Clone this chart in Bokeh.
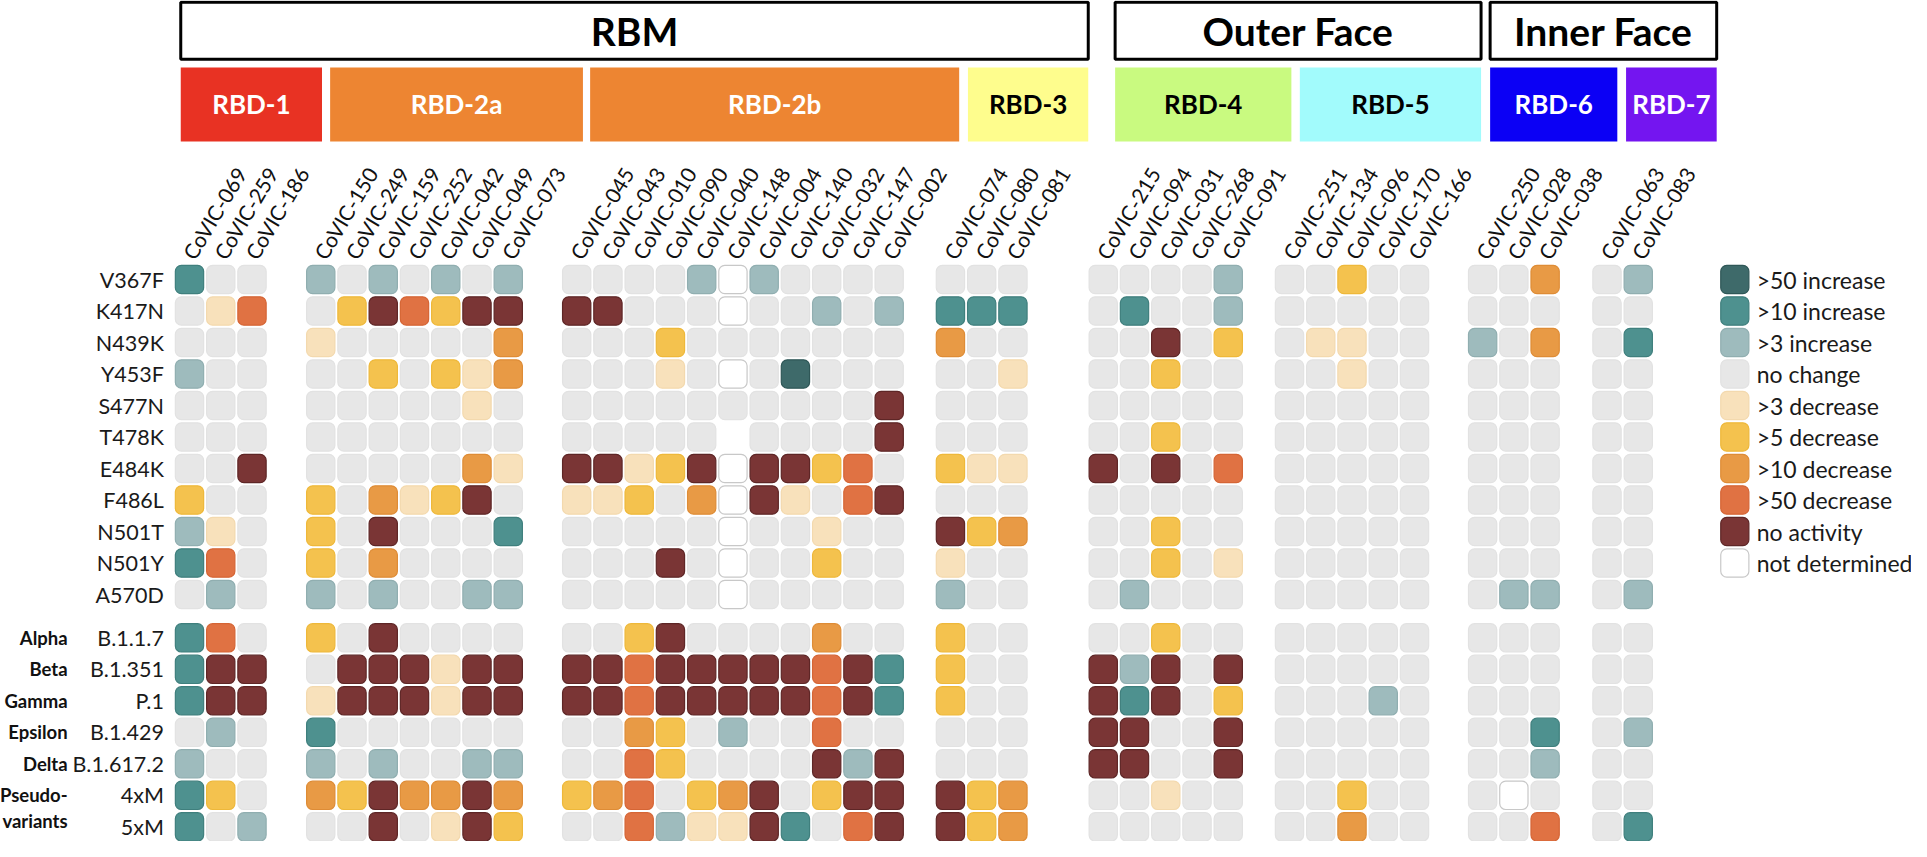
import math
from bokeh.plotting import figure
from bokeh.models import ColumnDataSource, Range1d
from bokeh.core.properties import value
from bokeh.embed import file_html
from bokeh.resources import INLINE

# ---------------- data ----------------
groups = ["RBD-1", "RBD-2a", "RBD-2b", "RBD-3", "RBD-4", "RBD-5", "RBD-6", "RBD-7"]
group_abs = [
    ["CoVIC-069", "CoVIC-259", "CoVIC-186"],
    ["CoVIC-150", "CoVIC-249", "CoVIC-159", "CoVIC-252", "CoVIC-042", "CoVIC-049", "CoVIC-073"],
    ["CoVIC-045", "CoVIC-043", "CoVIC-010", "CoVIC-090", "CoVIC-040", "CoVIC-148", "CoVIC-004",
     "CoVIC-140", "CoVIC-032", "CoVIC-147", "CoVIC-002"],
    ["CoVIC-074", "CoVIC-080", "CoVIC-081"],
    ["CoVIC-215", "CoVIC-094", "CoVIC-031", "CoVIC-268", "CoVIC-091"],
    ["CoVIC-251", "CoVIC-134", "CoVIC-096", "CoVIC-170", "CoVIC-166"],
    ["CoVIC-250", "CoVIC-028", "CoVIC-038"],
    ["CoVIC-063", "CoVIC-083"],
]
regions = ["RBM", "Outer Face", "Inner Face"]
region_groups = [(0, 3), (4, 5), (6, 7)]

mutations = ["V367F", "K417N", "N439K", "Y453F", "S477N", "T478K", "E484K", "F486L", "N501T", "N501Y", "A570D"]
variants = ["B.1.1.7", "B.1.351", "P.1", "B.1.429", "B.1.617.2", "4xM", "5xM"]
variant_names = ["Alpha", "Beta", "Gamma", "Epsilon", "Delta", "Pseudo-", "variants"]

# codes: "+50" ">50 increase", "+10", "+3", "0" no change, "-3", "-5", "-10", "-50",
#        "NA" no activity, "ND" not determined, None = no cell
#        RBD-1 | RBD-2a | RBD-2b | RBD-3 | RBD-4 | RBD-5 | RBD-6 | RBD-7
V367F = ["+10", "0", "0",
         "+3", "0", "+3", "0", "+3", "0", "+3",
         "0", "0", "0", "0", "+3", "ND", "+3", "0", "0", "0", "0",
         "0", "0", "0",
         "0", "0", "0", "0", "+3",
         "0", "0", "-5", "0", "0",
         "0", "0", "-10",
         "0", "+3"]
K417N = ["0", "-3", "-50",
         "0", "-5", "NA", "-50", "-5", "NA", "NA",
         "NA", "NA", "0", "0", "0", "ND", "0", "0", "+3", "0", "+3",
         "+10", "+10", "+10",
         "0", "+10", "0", "0", "+3",
         "0", "0", "0", "0", "0",
         "0", "0", "0",
         "0", "0"]
N439K = ["0", "0", "0",
         "-3", "0", "0", "0", "0", "0", "-10",
         "0", "0", "0", "-5", "0", "0", "0", "0", "0", "0", "0",
         "-10", "0", "0",
         "0", "0", "NA", "0", "-5",
         "0", "-3", "-3", "0", "0",
         "+3", "0", "-10",
         "0", "+10"]
Y453F = ["+3", "0", "0",
         "0", "0", "-5", "0", "-5", "-3", "-10",
         "0", "0", "0", "-3", "0", "ND", "0", "+50", "0", "0", "0",
         "0", "0", "-3",
         "0", "0", "-5", "0", "0",
         "0", "0", "-3", "0", "0",
         "0", "0", "0",
         "0", "0"]
S477N = ["0", "0", "0",
         "0", "0", "0", "0", "0", "-3", "0",
         "0", "0", "0", "0", "0", "0", "0", "0", "0", "0", "NA",
         "0", "0", "0",
         "0", "0", "0", "0", "0",
         "0", "0", "0", "0", "0",
         "0", "0", "0",
         "0", "0"]
T478K = ["0", "0", "0",
         "0", "0", "0", "0", "0", "0", "0",
         "0", "0", "0", "0", "0", None, "0", "0", "0", "0", "NA",
         "0", "0", "0",
         "0", "0", "-5", "0", "0",
         "0", "0", "0", "0", "0",
         "0", "0", "0",
         "0", "0"]
E484K = ["0", "0", "NA",
         "0", "0", "0", "0", "0", "-10", "-3",
         "NA", "NA", "-3", "-5", "NA", "ND", "NA", "NA", "-5", "-50", "0",
         "-5", "-3", "-3",
         "NA", "0", "NA", "0", "-50",
         "0", "0", "0", "0", "0",
         "0", "0", "0",
         "0", "0"]
F486L = ["-5", "0", "0",
         "-5", "0", "-10", "-3", "-5", "NA", "0",
         "-3", "-3", "-5", "0", "-10", "ND", "NA", "-3", "0", "-50", "NA",
         "0", "0", "0",
         "0", "0", "0", "0", "0",
         "0", "0", "0", "0", "0",
         "0", "0", "0",
         "0", "0"]
N501T = ["+3", "-3", "0",
         "-5", "0", "NA", "0", "0", "0", "+10",
         "0", "0", "0", "0", "0", "ND", "0", "0", "-3", "0", "0",
         "NA", "-5", "-10",
         "0", "0", "-5", "0", "0",
         "0", "0", "0", "0", "0",
         "0", "0", "0",
         "0", "0"]
N501Y = ["+10", "-50", "0",
         "-5", "0", "-10", "0", "0", "0", "0",
         "0", "0", "0", "NA", "0", "ND", "0", "0", "-5", "0", "0",
         "-3", "0", "0",
         "0", "0", "-5", "0", "-3",
         "0", "0", "0", "0", "0",
         "0", "0", "0",
         "0", "0"]
A570D = ["0", "+3", "0",
         "+3", "0", "+3", "0", "0", "+3", "+3",
         "0", "0", "0", "0", "0", "ND", "0", "0", "0", "0", "0",
         "+3", "0", "0",
         "0", "+3", "0", "0", "0",
         "0", "0", "0", "0", "0",
         "0", "+3", "+3",
         "0", "+3"]
B117 = ["+10", "-50", "0",
        "-5", "0", "NA", "0", "0", "0", "0",
        "0", "0", "-5", "NA", "0", "0", "0", "0", "-10", "0", "0",
        "-5", "0", "0",
        "0", "0", "-5", "0", "0",
        "0", "0", "0", "0", "0",
        "0", "0", "0",
        "0", "0"]
B1351 = ["+10", "NA", "NA",
         "0", "NA", "NA", "NA", "-3", "NA", "NA",
         "NA", "NA", "-50", "NA", "NA", "NA", "NA", "NA", "-50", "NA", "+10",
         "-5", "0", "0",
         "NA", "+3", "NA", "0", "NA",
         "0", "0", "0", "0", "0",
         "0", "0", "0",
         "0", "0"]
P1 = ["+10", "NA", "NA",
      "-3", "NA", "NA", "NA", "-3", "NA", "NA",
      "NA", "NA", "-50", "NA", "NA", "NA", "NA", "NA", "-50", "NA", "+10",
      "-5", "0", "0",
      "NA", "+10", "NA", "0", "-5",
      "0", "0", "0", "+3", "0",
      "0", "0", "0",
      "0", "0"]
B1429 = ["0", "+3", "0",
         "+10", "0", "0", "0", "0", "0", "0",
         "0", "0", "-10", "-5", "0", "+3", "0", "0", "-50", "0", "0",
         "0", "0", "0",
         "NA", "NA", "0", "0", "NA",
         "0", "0", "0", "0", "0",
         "0", "0", "+10",
         "0", "+3"]
B16172 = ["+3", "0", "0",
          "+3", "0", "+3", "0", "0", "+3", "+3",
          "0", "0", "-50", "-5", "0", "0", "0", "0", "NA", "+3", "NA",
          "0", "0", "0",
          "NA", "NA", "0", "0", "NA",
          "0", "0", "0", "0", "0",
          "0", "0", "+3",
          "0", "0"]
M4x = ["+10", "-5", "0",
       "-10", "-5", "NA", "-10", "-10", "NA", "-10",
       "-5", "-10", "-50", "0", "-5", "-10", "NA", "0", "-5", "NA", "NA",
       "NA", "-5", "-10",
       "0", "0", "-3", "0", "0",
       "0", "0", "-5", "0", "0",
       "0", "ND", "0",
       "0", "0"]
M5x = ["+10", "0", "+3",
       "0", "0", "NA", "0", "-3", "NA", "-5",
       "0", "0", "-50", "+3", "-3", "-3", "NA", "+10", "0", "-50", "NA",
       "NA", "-5", "-10",
       "0", "0", "0", "0", "0",
       "0", "0", "-10", "0", "0",
       "0", "0", "-50",
       "0", "+10"]
row_values = [V367F, K417N, N439K, Y453F, S477N, T478K, E484K, F486L, N501T, N501Y, A570D,
              B117, B1351, P1, B1429, B16172, M4x, M5x]

legend_codes = ["+50", "+10", "+3", "0", "-3", "-5", "-10", "-50", "NA", "ND"]
legend_labels = [">50 increase", ">10 increase", ">3 increase", "no change", ">3 decrease",
                 ">5 decrease", ">10 decrease", ">50 decrease", "no activity", "not determined"]

# ---------------- styles / layout ----------------
fill_map = {"+50": "#3e6a6a", "+10": "#4e918f", "+3": "#9ebbbd", "0": "#e7e7e7",
            "-3": "#f8e1bb", "-5": "#f4c24e", "-10": "#e89a45", "-50": "#e07243",
            "NA": "#7a3535", "ND": "#ffffff"}
line_map = {"+50": "#2f5757", "+10": "#3f7f7d", "+3": "#90aeb0", "0": "#e2e2e2",
            "-3": "#f3d9ae", "-5": "#eeb83a", "-10": "#de8c36", "-50": "#d56535",
            "NA": "#5e2626", "ND": "#c8c8c8"}
group_fill = ["#e83223", "#ed8532", "#ed8532", "#fefd8d", "#c9fa80", "#a2fbfc", "#0b00f5", "#7415f0"]
group_text = ["white", "white", "white", "black", "black", "black", "white", "white"]
group_gap = [1.2, 1.19, 0.96, 1.89, 0.96, 1.18, 0.98]
box_edges = [(-0.28, 4.24), (4.50, 12.59), (12.82, 24.63), (24.91, 28.76),
             (29.62, 35.26), (35.53, 41.33), (41.62, 45.69), (45.97, 48.87)]
variant_gap = 0.375

W, H = 1911, 841
P, Q = 31.25, 31.5
X0, Y0 = 189, 279

p = figure(width=W, height=H, x_range=Range1d(-X0 / P, (W - X0) / P),
           y_range=Range1d((H - Y0) / Q, -Y0 / Q), output_backend="svg",
           toolbar_location=None, x_axis_location=None, y_axis_location=None,
           min_border=0)
p.outline_line_color = None
for g in p.grid:
    g.visible = False

# column positions
col_x, col_names = [], []
start = 0.0
for gi, abs_ in enumerate(group_abs):
    if gi > 0:
        start = col_x[-1] + 1 + group_gap[gi - 1]
    for j, a in enumerate(abs_):
        col_x.append(start + j)
        col_names.append(a)

row_y = [float(i) for i in range(len(mutations))] + \
        [len(mutations) + variant_gap + k for k in range(len(variants))]

# cells
cx, cy, cf, cl = [], [], [], []
for ri, vals in enumerate(row_values):
    for ci, v in enumerate(vals):
        if v is None:
            continue
        cx.append(col_x[ci]); cy.append(row_y[ri])
        cf.append(fill_map[v]); cl.append(line_map[v])
src = ColumnDataSource(dict(x=cx, y=cy, fill=cf, line=cl))
p.rect(x="x", y="y", width=0.905, height=0.9, source=src, fill_color="fill",
       line_color="line", line_width=1.2, border_radius=6)

FONT = value("Lato")

# column labels
p.text(x=[x - 0.05 for x in col_x], y=[-0.71] * len(col_x), text=col_names,
       angle=math.radians(59), text_align="left", text_baseline="alphabetic",
       text_font=FONT, text_font_size=value("21px"), text_color="#111111")

# row labels
p.text(x=[-0.82] * len(row_y), y=row_y, text=mutations + variants,
       text_align="right", text_baseline="middle", text_font=FONT,
       text_font_size=value("21.5px"), text_color="#1a1a1a")
vy = row_y[len(mutations):]
vy = vy[:-1] + [vy[-1] - 0.18]
p.text(x=[-3.9] * len(vy), y=vy, text=variant_names, text_align="right",
       text_baseline="middle", text_font=FONT, text_font_style="bold",
       text_font_size=value("18.5px"), text_color="#111111")

# group colour boxes
p.quad(left=[e[0] for e in box_edges], right=[e[1] for e in box_edges],
       top=[-6.73] * len(groups), bottom=[-4.38] * len(groups),
       fill_color=group_fill, line_color=None)
p.text(x=[(a + b) / 2 for a, b in box_edges], y=[-5.56] * len(groups), text=groups,
       text_align="center", text_baseline="middle", text_font=FONT,
       text_font_style="bold", text_font_size=value("26px"), text_color=group_text)

# region boxes
rl = [box_edges[a][0] for a, b in region_groups]
rr = [box_edges[b][1] for a, b in region_groups]
p.quad(left=rl, right=rr, top=[-8.8] * 3, bottom=[-6.99] * 3, fill_color="white",
       line_color="black", line_width=3)
p.text(x=[(a + b) / 2 for a, b in zip(rl, rr)], y=[-7.88] * 3, text=regions,
       text_align="center", text_baseline="middle", text_font=FONT,
       text_font_style="bold", text_font_size=value("39px"), text_color="black")

# legend
lsrc = ColumnDataSource(dict(x=[49.45] * len(legend_codes), y=list(range(len(legend_codes))),
                             fill=[fill_map[c] for c in legend_codes],
                             line=[line_map[c] for c in legend_codes]))
p.rect(x="x", y="y", width=0.9, height=0.9, source=lsrc, fill_color="fill",
       line_color="line", line_width=1.2, border_radius=6)
p.text(x=[50.15] * len(legend_labels), y=list(range(len(legend_labels))), text=legend_labels,
       text_align="left", text_baseline="middle", text_font=FONT,
       text_font_size=value("23px"), text_color="#1a1a1a")

open("out.html", "w").write(file_html(p, INLINE))
